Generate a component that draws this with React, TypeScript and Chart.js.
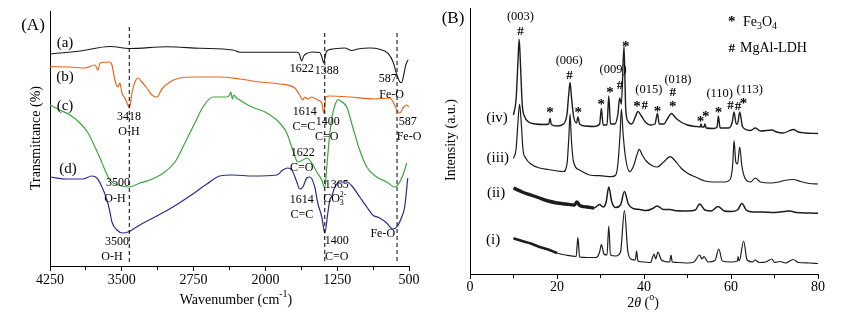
import React, { useEffect, useRef } from 'react';
import { Chart, registerables } from 'chart.js';
Chart.register(...registerables);

const FONT = "'Liberation Serif', 'Times New Roman', Times, serif";
type Pt = [number, number];

// ---------------- Panel A: FTIR (wavenumber, transmittance a.u.) ----------------
const WN_TICKS = [4250, 3875, 3500, 3125, 2750, 2375, 2000, 1625, 1250, 875, 500];
const WN_LABELS = [4250, 3500, 2750, 2000, 1250, 500];

const FTIR_A: Pt[] = [
  [4250, 212], [3937, 215], [3624, 219.5], [3415, 217.5], [3029, 219.3], [2684, 217.7], [2340, 216],
  [2267, 213.7], [1672, 213.7], [1645, 212], [1622, 205], [1600, 210], [1568, 212.5], [1515, 214],
  [1432, 213.5], [1410, 209], [1390, 203], [1375, 210], [1359, 215], [1296, 217], [1171, 218],
  [1098, 215.5], [1035, 217], [910, 218], [806, 216.7], [719, 212.7], [667, 204.3], [632, 192.7],
  [597, 184.3], [579, 183.3], [555, 191], [534, 201], [510, 206],
];
const FTIR_B: Pt[] = [
  [4250, 199.3], [4041, 199], [3885, 198], [3780, 201], [3749, 196], [3728, 203], [3624, 204],
  [3603, 201], [3572, 186], [3540, 179], [3519, 183], [3499, 173], [3467, 168], [3436, 161],
  [3420, 158], [3394, 173], [3363, 184], [3332, 188], [3290, 184], [3238, 178], [3185, 171],
  [3133, 169], [3081, 177], [2997, 184], [2893, 188], [2737, 189], [2476, 189], [2267, 187],
  [2058, 184], [1850, 182], [1693, 178], [1641, 171], [1609, 166], [1588, 169], [1557, 167],
  [1515, 169], [1453, 166], [1411, 163], [1390, 153], [1369, 169], [1327, 170], [1119, 169],
  [858, 167], [701, 168], [660, 163], [628, 156], [597, 153], [555, 159], [524, 161], [503, 159],
];
const FTIR_C: Pt[] = [
  [4250, 161], [4146, 156], [4041, 151], [3937, 143], [3853, 133], [3780, 119], [3728, 108],
  [3676, 96], [3624, 86], [3540, 81], [3426, 79], [3311, 83], [3206, 86], [3050, 94], [2945, 104],
  [2841, 123], [2737, 143], [2653, 159], [2549, 169], [2403, 169], [2375, 171], [2361, 174],
  [2345, 167], [2330, 171], [2300, 168], [2267, 166], [2163, 160], [1985, 153], [1850, 143],
  [1777, 133], [1714, 116], [1662, 104], [1609, 106], [1568, 108], [1515, 103], [1463, 94],
  [1411, 86], [1380, 78], [1359, 99], [1327, 133], [1296, 153], [1265, 163], [1240, 166.5],
  [1215, 165], [1150, 159], [1088, 139], [1015, 116], [941, 99], [837, 89], [733, 84], [649, 79],
  [597, 84], [545, 96], [524, 103],
];
const FTIR_D: Pt[] = [
  [4250, 89], [4073, 87], [3906, 87], [3812, 90], [3760, 88], [3707, 79], [3655, 66], [3624, 54],
  [3603, 44], [3551, 36], [3488, 33], [3436, 34], [3394, 36], [3311, 41], [3175, 48], [2966, 59],
  [2789, 70], [2611, 82], [2476, 90], [2340, 91], [2131, 90], [1881, 91], [1818, 96], [1766, 98],
  [1724, 96], [1672, 84], [1641, 77], [1609, 79], [1568, 88], [1536, 89], [1484, 79], [1453, 63],
  [1411, 49], [1380, 33], [1348, 53], [1327, 66], [1306, 70], [1275, 79], [1223, 84], [1150, 84],
  [1088, 79], [1015, 69], [941, 59], [879, 51], [806, 48], [733, 43], [670, 37], [628, 39],
  [576, 49], [545, 59], [513, 88],
];
const FTIR_GUIDES = [3422, 1380, 625];
const FTIR_GUIDE_TOP = [239, 233, 233];
const FTIR_GUIDE_BOTTOM = 4;

// ---------------- Panel B: XRD (2θ, intensity a.u.) ----------------
const TT_LABEL_STEP = 20;
const XRD_I: Pt[] = [
  [10, 35.7], [12, 33], [14, 30.5], [16, 27], [18, 24.5], [20, 21], [22, 19], [24.4, 17.5], [24.8, 36.7],
  [25.2, 17], [27, 16.5], [29, 16.5], [29.8, 22], [30.2, 29.5], [30.8, 20], [31.5, 19], [31.9, 48],
  [32.3, 19], [33.5, 18], [34.6, 22], [35.5, 63.5], [36.3, 22], [37.2, 14.5], [38, 14], [38.3, 23],
  [38.6, 13], [40, 12], [41.5, 11.5], [42.3, 20], [42.7, 15], [43.2, 22], [44, 14], [45.9, 12],
  [46.2, 19], [46.5, 12], [48, 11.5], [50, 11], [51.5, 12], [52.8, 19], [53.3, 15], [53.8, 17.3],
  [54.7, 12], [56.3, 13.5], [57.2, 25], [58, 13], [60, 12], [61.5, 13], [61.6, 17.5], [61.9, 13],
  [62.9, 33], [63.7, 14], [65, 12], [65.5, 14], [66.5, 11.5], [68, 12], [69.4, 15], [70, 11.5],
  [71.3, 12.5], [72.5, 11], [74.3, 14.5], [75.5, 11.5], [78, 11], [80, 10.5],
];
const XRD_II: Pt[] = [
  [10, 86], [12, 82], [14, 79], [16, 76], [18, 73], [20, 71], [22, 70], [24, 69], [24.6, 72],
  [25.2, 68.5], [27, 67], [28.5, 66], [29.8, 69.5], [30.6, 67], [31.3, 72], [31.9, 87], [32.6, 72],
  [33.5, 66.5], [34.6, 69], [35.5, 82.5], [36.4, 70], [37.5, 65.5], [39, 64.5], [40.5, 63.5],
  [42, 65.5], [43, 68], [44.5, 64.5], [46, 64.5], [47, 63.5], [50, 63], [51.8, 64], [52.8, 70],
  [54, 64], [55.5, 63], [57, 67.5], [58.5, 63], [60, 62.5], [61.5, 64], [62.5, 70.5], [63.5, 64],
  [65, 62], [67, 62], [70, 61.5], [73.5, 63], [75, 61.5], [78, 61], [80, 60.7],
];
const XRD_III: Pt[] = [
  [10, 115.7], [10.6, 125], [11.0, 150], [11.4, 170], [11.8, 150], [12.2, 124], [12.8, 116], [14, 110],
  [16, 106], [18, 104.5], [20, 103], [21.5, 102.5], [22.3, 110], [22.7, 135], [23.0, 160], [23.3, 135],
  [23.8, 112], [25.2, 104], [27.5, 99], [29.8, 98.3], [32.5, 97.3], [33.5, 99], [34.0, 110],
  [34.5, 140], [34.8, 165], [35.2, 140], [35.7, 118], [36.7, 102.3], [37.6, 108], [38.3, 118],
  [38.9, 124.7], [39.6, 119], [40.5, 113], [42, 108], [43, 107], [44.5, 112], [46, 117.3],
  [47.2, 113], [48.5, 106], [50, 100.7], [52, 96.7], [54, 93], [56, 92], [58.5, 92], [59.8, 94.5],
  [60.4, 110], [60.7, 133.5], [61.1, 112], [61.5, 110], [62.0, 127], [62.5, 108], [63.2, 96],
  [64.5, 92], [65.6, 96], [66.8, 92], [69, 91], [71, 92], [72.2, 93.5], [74.3, 94.5], [76, 92.5],
  [78, 90.5], [80, 90],
];
const XRD_IV: Pt[] = [
  [10, 159], [10.6, 175], [11.0, 210], [11.3, 234.7], [11.6, 210], [12.0, 170], [12.6, 157],
  [13.5, 152], [15, 150], [17, 149.5], [18.1, 150], [18.4, 155.5], [18.7, 149.5], [20, 148],
  [21.5, 150], [22.3, 160], [22.7, 180], [23.0, 191.5], [23.3, 178], [23.8, 158], [24.5, 151],
  [24.8, 157], [25.2, 150], [26.5, 148], [28.5, 147.5], [29.8, 150], [30.2, 165.5], [30.6, 149],
  [31.5, 149], [31.9, 178], [32.3, 150], [33.3, 150], [34.0, 160], [34.4, 176], [34.8, 170],
  [35.4, 228], [35.8, 165], [36.3, 153], [37.2, 150], [38.0, 157], [38.6, 162.5], [39.4, 158],
  [40.3, 152], [41.5, 149], [42.5, 150], [43.1, 160.5], [43.5, 150], [44.5, 150], [45.5, 156],
  [46.3, 160.5], [47.3, 156], [48.5, 152], [50, 149], [52, 147.5], [52.9, 147], [53.1, 150],
  [53.3, 147], [53.8, 147], [54.0, 150], [54.3, 146], [56, 145.5], [56.8, 147], [57.1, 158],
  [57.5, 146], [59.5, 146], [60.3, 152], [60.7, 162], [61.2, 150], [61.5, 150], [62.0, 162],
  [62.6, 148], [63.2, 145], [64.5, 143.5], [65.6, 146], [66.8, 143], [69.4, 144], [70.5, 142],
  [72, 141], [74.3, 144.5], [75.5, 142], [77, 141], [80, 140.5],
];

// ---------------- text annotations ----------------
type Part = { t: string; m?: 'sub' | 'sup' | 'over'; it?: boolean };
type Note = { x: number; y: number; p: string | Part[]; s: number; a?: CanvasTextAlign; r?: number; b?: boolean; dy?: number };

const STAR = (x: number, y: number): Note => ({ x, y, p: '*', s: 15, b: true, dy: 3.5 });
const HASH = (x: number, y: number): Note => ({ x, y, p: '#', s: 13, b: true });

const A_NOTES: Note[] = [
  { x: 4093, y: 223, p: '(a)', s: 15 }, { x: 4093, y: 189, p: '(b)', s: 15 },
  { x: 4093, y: 160, p: '(c)', s: 15 }, { x: 4062, y: 97, p: '(d)', s: 15 },
  { x: 1620, y: 197, p: '1622', s: 12 }, { x: 1359, y: 195, p: '1388', s: 12 },
  { x: 722, y: 187, p: '587', s: 12 }, { x: 681, y: 171, p: 'Fe-O', s: 12 },
  { x: 3425, y: 149, p: '3418', s: 12 }, { x: 3425, y: 134, p: 'O-H', s: 12 },
  { x: 1589, y: 154, p: '1614', s: 12 }, { x: 1599, y: 139, p: 'C=C', s: 12 },
  { x: 1348, y: 144, p: '1400', s: 12 }, { x: 1359, y: 129, p: 'C=O', s: 12 },
  { x: 514, y: 144, p: '587', s: 12 }, { x: 500, y: 129, p: 'Fe-O', s: 12 },
  { x: 1609, y: 113, p: '1622', s: 12 }, { x: 1620, y: 98, p: 'C=O', s: 12 },
  { x: 3540, y: 83, p: '3500', s: 12 }, { x: 3572, y: 67, p: 'O-H', s: 12 },
  { x: 1255, y: 81, p: '1365', s: 12 },
  { x: 1275, y: 67, p: [{ t: 'CO' }, { t: '3', m: 'sub' }, { t: '2-', m: 'over' }], s: 12 },
  { x: 1620, y: 66, p: '1614', s: 12 }, { x: 1620, y: 51, p: 'C=C', s: 12 },
  { x: 3551, y: 24, p: '3500', s: 12 }, { x: 3603, y: 9, p: 'O-H', s: 12 },
  { x: 1255, y: 25, p: '1400', s: 12 }, { x: 1255, y: 9, p: 'C=O', s: 12 },
  { x: 774, y: 32, p: 'Fe-O', s: 12 },
];
const A_FIXED: Note[] = [
  { x: 33, y: 26, p: '(A)', s: 17 },
  { x: 236, y: 300, p: [{ t: 'Wavenumber (cm' }, { t: '-1', m: 'sup' }, { t: ')' }], s: 14 },
  { x: 36, y: 138, p: 'Transmittance (%)', s: 14, r: -Math.PI / 2 },
];

const B_NOTES: Note[] = [
  { x: 11.6, y: 257, p: '(003)', s: 12.5 }, HASH(11.6, 242),
  { x: 22.8, y: 213, p: '(006)', s: 12.5 }, HASH(22.9, 198),
  STAR(18.4, 164.7), STAR(24.9, 164.7), STAR(30.2, 172.3), STAR(32.2, 184),
  { x: 32.9, y: 204, p: '(009)', s: 12.5 }, HASH(34.5, 188), STAR(35.8, 230.7),
  STAR(38.4, 170.7), HASH(40.2, 168), { x: 41.1, y: 184.7, p: '(015)', s: 12.5 },
  { x: 47.8, y: 194, p: '(018)', s: 12.5 }, HASH(46.6, 181.3), STAR(46.6, 170), STAR(43.1, 165.7),
  STAR(53.0, 155.7), STAR(54.2, 160), { x: 57.4, y: 180, p: '(110)', s: 12.5 }, STAR(57.1, 164),
  HASH(59.9, 168), HASH(61.6, 167.3), STAR(62.9, 173.3), { x: 64.3, y: 184, p: '(113)', s: 12.5 },
  { x: 6.2, y: 156, p: '(iv)', s: 15 }, { x: 6.4, y: 116, p: '(iii)', s: 15 },
  { x: 6.0, y: 81, p: '(ii)', s: 15 }, { x: 5.3, y: 34, p: '(i)', s: 15 },
];
const B_FIXED: Note[] = [
  { x: 23, y: 19, p: '(B)', s: 17 },
  { x: 301.7, y: 18.3, p: '*', s: 15, b: true, dy: 3.5 },
  { x: 313, y: 22, p: [{ t: 'Fe' }, { t: '3', m: 'sub' }, { t: 'O' }, { t: '4', m: 'sub' }], s: 14, a: 'left' },
  { x: 301.7, y: 48.3, p: '#', s: 13, b: true },
  { x: 310, y: 48.5, p: 'MgAl-LDH', s: 14, a: 'left' },
  { x: 213, y: 303, p: [{ t: '2' }, { t: 'θ', it: true }, { t: ' (' }, { t: 'o', m: 'sup' }, { t: ')' }], s: 14 },
  { x: 21, y: 140, p: 'Intensity (a.u.)', s: 14, r: -Math.PI / 2 },
];

function drawRich(ctx: CanvasRenderingContext2D, n: Note, x: number, y: number) {
  const list: Part[] = typeof n.p === 'string' ? [{ t: n.p }] : n.p;
  const size = n.s;
  ctx.save();
  ctx.translate(x, y);
  if (n.r) ctx.rotate(n.r);
  ctx.textBaseline = 'middle';
  ctx.textAlign = 'left';
  ctx.fillStyle = '#000';
  const small = Math.round(size * 0.68);
  let w = 0;
  let last = 0;
  const items = list.map((p) => {
    const fs = p.m ? small : size;
    const font = `${p.it ? 'italic ' : ''}${n.b ? 'bold ' : ''}${fs}px ${FONT}`;
    ctx.font = font;
    const pw = ctx.measureText(p.t).width;
    let px: number;
    if (p.m === 'over') {
      px = last;
      w = Math.max(w, last + pw);
    } else {
      px = w;
      last = w;
      w += pw;
    }
    const oy = p.m === 'sub' ? size * 0.32 : p.m === 'sup' || p.m === 'over' ? -size * 0.38 : 0;
    return { t: p.t, font, px, oy };
  });
  const a = n.a || 'center';
  const x0 = a === 'left' ? 0 : a === 'right' ? -w : -w / 2;
  for (const it of items) {
    ctx.font = it.font;
    ctx.fillText(it.t, x0 + it.px, it.oy + (n.dy || 0));
  }
  ctx.restore();
}

function notesPlugin(notes: Note[], fixed: Note[]) {
  return {
    id: 'notes',
    afterDatasetsDraw(chart: any) {
      const ctx = chart.ctx as CanvasRenderingContext2D;
      const xs = chart.scales.x;
      const ys = chart.scales.y;
      for (const n of notes) drawRich(ctx, n, xs.getPixelForValue(n.x), ys.getPixelForValue(n.y));
      for (const n of fixed) drawRich(ctx, n, n.x, n.y);
    },
  };
}

const toXY = (d: Pt[]) => d.map(([x, y]) => ({ x, y }));
const lineDs = (d: Pt[], color: string, width: number, extra: any = {}) => ({
  data: toXY(d),
  borderColor: color,
  borderWidth: width,
  pointRadius: 0,
  fill: false,
  cubicInterpolationMode: 'monotone',
  ...extra,
});

const baseBorder = { display: true, color: '#000', width: 1 };

export default function App() {
  const refA = useRef<HTMLCanvasElement>(null);
  const refB = useRef<HTMLCanvasElement>(null);

  useEffect(() => {
    Chart.defaults.font.family = FONT;
    Chart.defaults.color = '#000';

    const guides = FTIR_GUIDES.map((g, i) => ({
      data: [{ x: g, y: FTIR_GUIDE_TOP[i] }, { x: g, y: FTIR_GUIDE_BOTTOM }],
      borderColor: '#000',
      borderWidth: 1,
      borderDash: [4, 3],
      pointRadius: 0,
      fill: false,
    }));

    const chartA = new Chart(refA.current as HTMLCanvasElement, {
      type: 'line',
      data: {
        datasets: [
          ...guides,
          lineDs(FTIR_A, '#1a1a1a', 1.1),
          lineDs(FTIR_B, '#E8651F', 1.2),
          lineDs(FTIR_C, '#3AA63A', 1.2),
          lineDs(FTIR_D, '#2B2D8E', 1.2),
        ] as any,
      },
      options: {
        animation: false,
        responsive: false,
        devicePixelRatio: 1,
        layout: { padding: { left: 0, right: 21, top: 11, bottom: 0 } },
        plugins: { legend: { display: false }, tooltip: { enabled: false }, title: { display: false } },
        scales: {
          x: {
            type: 'linear',
            reverse: true,
            min: 500,
            max: 4250,
            afterBuildTicks: (ax: any) => {
              ax.ticks = WN_TICKS.map((v) => ({ value: v }));
            },
            afterFit: (ax: any) => {
              ax.height = 53;
            },
            ticks: {
              autoSkip: false,
              maxRotation: 0,
              padding: 1,
              font: { size: 14, family: FONT },
              color: '#000',
              callback: (v: any) => (WN_LABELS.includes(Number(v)) ? String(v) : ''),
            },
            grid: {
              display: true,
              drawOnChartArea: false,
              drawTicks: true,
              tickLength: 5,
              tickColor: '#000',
              tickWidth: 1,
              tickBorderDash: (c: any) => (c.tick && WN_LABELS.includes(c.tick.value) ? [] : [3, 20]),
            },
            border: baseBorder,
          },
          y: {
            type: 'linear',
            min: 0,
            max: 255,
            afterFit: (ax: any) => {
              ax.width = 50;
            },
            ticks: { display: false },
            grid: { display: false, drawTicks: false },
            border: baseBorder,
          },
        },
      } as any,
      plugins: [notesPlugin(A_NOTES, A_FIXED)],
    });

    const noisy = (limit: number, wThick: number, wThin: number) => ({
      segment: { borderWidth: (c: any) => (c.p0.parsed.x < limit ? wThick : wThin) },
    });

    const chartB = new Chart(refB.current as HTMLCanvasElement, {
      type: 'line',
      data: {
        datasets: [
          lineDs(XRD_IV, '#1c1c1c', 1.4),
          lineDs(XRD_III, '#1c1c1c', 1.2),
          lineDs(XRD_II, '#1c1c1c', 1.4, noisy(28, 3.4, 1.5)),
          lineDs(XRD_I, '#1c1c1c', 1.2, noisy(20, 2.6, 1.2)),
        ] as any,
      },
      options: {
        animation: false,
        responsive: false,
        devicePixelRatio: 1,
        layout: { padding: { left: 0, right: 28, top: 8, bottom: 0 } },
        plugins: { legend: { display: false }, tooltip: { enabled: false }, title: { display: false } },
        scales: {
          x: {
            type: 'linear',
            min: 0,
            max: 80,
            afterFit: (ax: any) => {
              ax.height = 45;
            },
            ticks: {
              stepSize: 10,
              autoSkip: false,
              maxRotation: 0,
              padding: 0,
              font: { size: 14, family: FONT },
              color: '#000',
              callback: (v: any) => (Number(v) % TT_LABEL_STEP === 0 ? String(v) : ''),
            },
            grid: {
              display: true,
              drawOnChartArea: false,
              drawTicks: true,
              tickLength: 5,
              tickColor: '#000',
              tickWidth: 1,
              tickBorderDash: (c: any) => (c.tick && c.tick.value % TT_LABEL_STEP === 0 ? [] : [3, 20]),
            },
            border: baseBorder,
          },
          y: {
            type: 'linear',
            min: 0,
            max: 266,
            afterFit: (ax: any) => {
              ax.width = 40;
            },
            ticks: { display: false },
            grid: { display: false, drawTicks: false },
            border: baseBorder,
          },
        },
      } as any,
      plugins: [notesPlugin(B_NOTES, B_FIXED)],
    });

    return () => {
      chartA.destroy();
      chartB.destroy();
    };
  }, []);

  return (
    <div style={{ position: 'absolute', left: 0, top: 0, width: 846, height: 319, background: '#fff' }}>
      <canvas ref={refA} width={430} height={319} style={{ position: 'absolute', left: 0, top: 0, width: 430, height: 319 }} />
      <canvas ref={refB} width={416} height={319} style={{ position: 'absolute', left: 430, top: 0, width: 416, height: 319 }} />
    </div>
  );
}
